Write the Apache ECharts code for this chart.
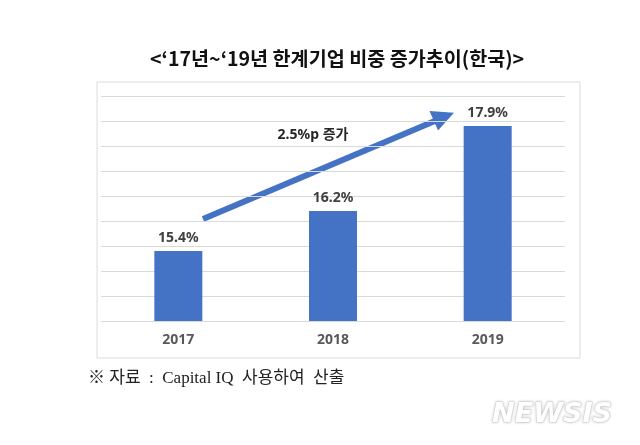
<!DOCTYPE html>
<html>
<head>
<meta charset="utf-8">
<script src="https://cdn.jsdelivr.net/npm/echarts@6/dist/echarts.min.js"></script>
<style>
  html, body { margin: 0; padding: 0; background: #fff; }
  #chart { width: 640px; height: 445px; }
</style>
</head>
<body>
<div id="chart"></div>
<script>
// 연도 (x축 범주)
const years = ['2017', '2018', '2019']
// 한계기업 비중 (%)
const shares = [15.4, 16.2, 17.9]
// y축 눈금 범위
const yMin = 14
const yMax = 18.5
const yStep = 0.5

const chart = echarts.init(document.getElementById('chart'))

const option = {
  backgroundColor: '#fff',
  animation: false,
  title: {
    text: '<‘17년~‘19년 한계기업 비중 증가추이(한국)>',
    left: 145,
    top: 44,
    textStyle: {
      fontFamily: 'Noto Sans CJK KR',
      fontWeight: 'bold',
      fontSize: 19.6,
      color: '#111'
    }
  },
  grid: {
    left: 101,
    right: 75,
    top: 96,
    bottom: 124
  },
  xAxis: {
    type: 'category',
    data: years,
    axisLine: { show: false },
    axisTick: { show: false },
    axisLabel: {
      margin: 12,
      fontFamily: 'Noto Sans',
      fontWeight: 'bold',
      fontSize: 14,
      color: '#595959'
    }
  },
  yAxis: {
    type: 'value',
    min: yMin,
    max: yMax,
    interval: yStep,
    axisLabel: { show: false },
    axisLine: { show: false },
    axisTick: { show: false },
    splitLine: { lineStyle: { color: '#d9d9d9', width: 1 } }
  },
  series: [
    {
      type: 'bar',
      data: shares,
      barWidth: 48,
      itemStyle: { color: '#4472C4' },
      label: {
        show: true,
        position: 'top',
        distance: 6,
        formatter: p => p.value.toFixed(1) + '%',
        fontFamily: 'Noto Sans',
        fontWeight: 'bold',
        fontSize: 14,
        color: '#404040'
      }
    }
  ],
  graphic: [
    // 차트 테두리
    {
      type: 'rect',
      shape: { x: 97, y: 82, width: 483, height: 276 },
      style: { fill: 'none', stroke: '#dcdcdc', lineWidth: 1 },
      z: -1
    },
    // 증가 화살표
    {
      type: 'line',
      shape: { x1: 203, y1: 219, x2: 436, y2: 120.5 },
      style: { stroke: '#4472C4', lineWidth: 6 }
    },
    {
      type: 'polygon',
      shape: { points: [[454, 112.7], [438, 130.5], [429.5, 111]] },
      style: { fill: '#4472C4' }
    },
    {
      type: 'text',
      x: 313,
      y: 135,
      style: {
        text: '2.5%p 증가',
        align: 'center',
        verticalAlign: 'middle',
        font: 'bold 14px "Noto Sans", "Noto Sans CJK KR"',
        fill: '#262626'
      }
    },
    // 출처
    {
      type: 'text',
      x: 88,
      y: 379,
      style: {
        text: '※ 자료  :  Capital IQ  사용하여  산출',
        verticalAlign: 'middle',
        font: '17px "Liberation Serif", "Noto Sans CJK KR"',
        fill: '#222'
      }
    },
    // 워터마크
    {
      type: 'text',
      x: 552,
      y: 415,
      style: {
        text: 'NEWSIS',
        align: 'center',
        verticalAlign: 'middle',
        font: 'italic bold 27px "DejaVu Sans"',
        fill: '#ffffff',
        stroke: '#e2e2e2',
        lineWidth: 1,
        textShadowColor: 'rgba(0,0,0,0.2)',
        textShadowBlur: 3
      }
    }
  ]
}

chart.setOption(option)
</script>
</body>
</html>
